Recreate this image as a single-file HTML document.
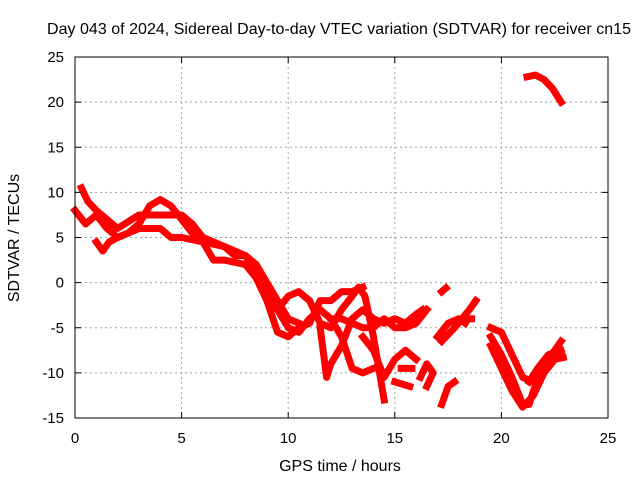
<!DOCTYPE html>
<html><head><meta charset="utf-8"><style>
body{margin:0;background:#fff;}
svg text{font-family:"Liberation Sans",sans-serif;font-size:15px;fill:#000;}
svg text.big{font-size:16px;}
</style></head><body>
<svg id="chart" width="640" height="480">
<rect width="640" height="480" fill="#fff"/>
<g id="grid"></g>
<g id="series"></g>
<rect x="75" y="57" width="533" height="361" fill="none" stroke="#000" stroke-width="1"/>
<g id="axes"></g>
<text class="big" x="339" y="34" text-anchor="middle" textLength="584">Day 043 of 2024, Sidereal Day-to-day VTEC variation (SDTVAR) for receiver cn15</text>
<text class="big" x="340" y="471" text-anchor="middle">GPS time / hours</text>
<text class="big" transform="translate(19,238) rotate(-90)" text-anchor="middle">SDTVAR / TECUs</text>
</svg>
<script>
const xTicks=[0,5,10,15,20,25];
const yTicks=[-15,-10,-5,0,5,10,15,20,25];
const track1=[[0,8],[0.5,6.5],[1,7.5],[1.5,6],[2,5],[2.5,5.5],[3,6.5],[3.5,8.5],[4,9.2],[4.5,8.5],[5,7],[5.5,5.5],[6,4.5],[7,4],[8,3],[8.5,1],[9,-1],[9.5,-3],[10,-5],[10.5,-5.5],[11,-4],[11.5,-3],[12,-4],[12.5,-6],[13,-9.5],[13.5,-10],[14,-9.5]];
const track2=[[0.3,10.5],[0.6,9],[1,8],[1.5,7],[2,6],[3,7.5],[4,7.5],[5,7.5],[5.5,6.5],[6,5],[7,4],[7.5,3],[8,3],[8.5,2],[9,0],[9.5,-2],[10,-4],[10.5,-4.5]];
const track3=[[1,4.5],[1.3,3.5],[1.6,4.5],[2,5],[3,6],[4,6],[4.5,5],[5,5],[6,4.5],[6.5,2.5],[7,2.5],[8,2],[8.5,0.5],[9,-2],[9.5,-5.5],[10,-6],[10.5,-5],[11,-4.5],[11.5,-2],[12,-2],[12.5,-1],[13,-1],[13.5,-0.5]];
const track4=[[9.5,-3],[10,-1.5],[10.5,-1],[11,-2],[11.5,-4.5],[12,-5],[12.5,-3],[13,-1.5],[13.3,-0.5],[13.6,-1.5],[14,-6],[14.5,-13]];
const track5=[[11.5,-5],[11.8,-10.5],[12,-9],[12.5,-7],[13,-4],[13.5,-3],[14,-4],[14.5,-4.5],[15,-4],[15.5,-4.5],[16,-3.5],[16.3,-3]];
const track6=[[12,-4],[12.5,-4],[13,-4.5],[13.5,-5],[14,-5],[14.5,-4],[15,-5],[15.5,-5],[16,-4.5],[16.5,-3]];
const track7=[[13.5,-6],[14,-7.5],[14.5,-10.5],[15,-8.5],[15.5,-7.5],[16,-8.5]];
const track8=[[15.3,-9.5],[15.8,-9.5]];
const track9=[[15,-11],[15.7,-11.5]];
const track10=[[16.2,-10.5],[16.5,-9],[16.8,-10],[16.5,-11.5]];
const track11=[[17.2,-13.5],[17.5,-11.5],[17.8,-11]];
const track12=[[17.2,-1],[17.4,-0.6]];
const track13=[[17,-6],[17.5,-4.5],[18,-4],[18.3,-4.5]];
const track14=[[17.2,-6.5],[17.8,-5],[18.5,-3],[18.8,-2]];
const track15=[[18.3,-4],[18.6,-4]];
const track16=[[19.5,-5],[20,-5.5],[20.5,-8],[21,-10.5],[21.5,-11],[22,-9],[22.5,-7.5],[22.8,-6.5]];
const track17=[[19.5,-6],[20,-8],[20.5,-10.5],[21,-13.5],[21.3,-13.5],[21.5,-12],[22,-9],[22.5,-8],[22.8,-8]];
const track18=[[19.5,-7],[20,-9.5],[20.5,-12],[21,-13.8],[21.5,-12.5],[22,-10],[22.5,-8.5],[22.9,-8.3]];
const track19=[[21.3,-11],[21.7,-9.5],[22.2,-8],[22.8,-7.5]];
const track20=[[21.2,22.8],[21.6,23],[22,22.5],[22.4,21.5],[22.8,20]];
const tracks=[track1,track2,track3,track4,track5,track6,track7,track8,track9,track10,track11,track12,track13,track14,track15,track16,track17,track18,track19,track20];

const NS='http://www.w3.org/2000/svg';
const L=75,R=608,T=57,B=418,x0=0,x1=25,y0=-15,y1=25;
function xs(v){return L+(v-x0)/(x1-x0)*(R-L);}
function ys(v){return B-(v-y0)/(y1-y0)*(B-T);}
const grid=document.getElementById('grid'),axes=document.getElementById('axes'),series=document.getElementById('series');
function mk(tag,attrs,parent){const e=document.createElementNS(NS,tag);for(const k in attrs)e.setAttribute(k,attrs[k]);parent.appendChild(e);return e;}
xTicks.forEach(v=>{
  const x=xs(v);
  if(v!==x0&&v!==x1){const g=mk('line',{x1:x,x2:x,y1:T,y2:B,stroke:'#a0a0a0','stroke-dasharray':'2,3'},grid);
  
  }
  mk('line',{x1:x,x2:x,y1:B,y2:B-6,stroke:'#000'},axes);
  mk('line',{x1:x,x2:x,y1:T,y2:T+6,stroke:'#000'},axes);
  const t=mk('text',{x:x,y:B+25,'text-anchor':'middle'},axes);t.textContent=v;
  
  
});
yTicks.forEach(v=>{
  const y=ys(v);
  if(v!==y0&&v!==y1){const g=mk('line',{x1:L,x2:R,y1:y,y2:y,stroke:'#a0a0a0','stroke-dasharray':'2,3'},grid);
  
  }
  mk('line',{x1:L,x2:L+6,y1:y,y2:y,stroke:'#000'},axes);
  mk('line',{x1:R,x2:R-6,y1:y,y2:y,stroke:'#000'},axes);
  const t=mk('text',{x:L-11,y:y+5,'text-anchor':'end'},axes);t.textContent=v;
  
  
});
tracks.forEach(tr=>{
  const p=mk('polyline',{points:tr.map(d=>xs(d[0])+','+ys(d[1])).join(' '),fill:'none',stroke:'#ff0000','stroke-width':7,'stroke-linejoin':'round','stroke-linecap':'square'},series);
  
  
});
</script>
</body></html>
